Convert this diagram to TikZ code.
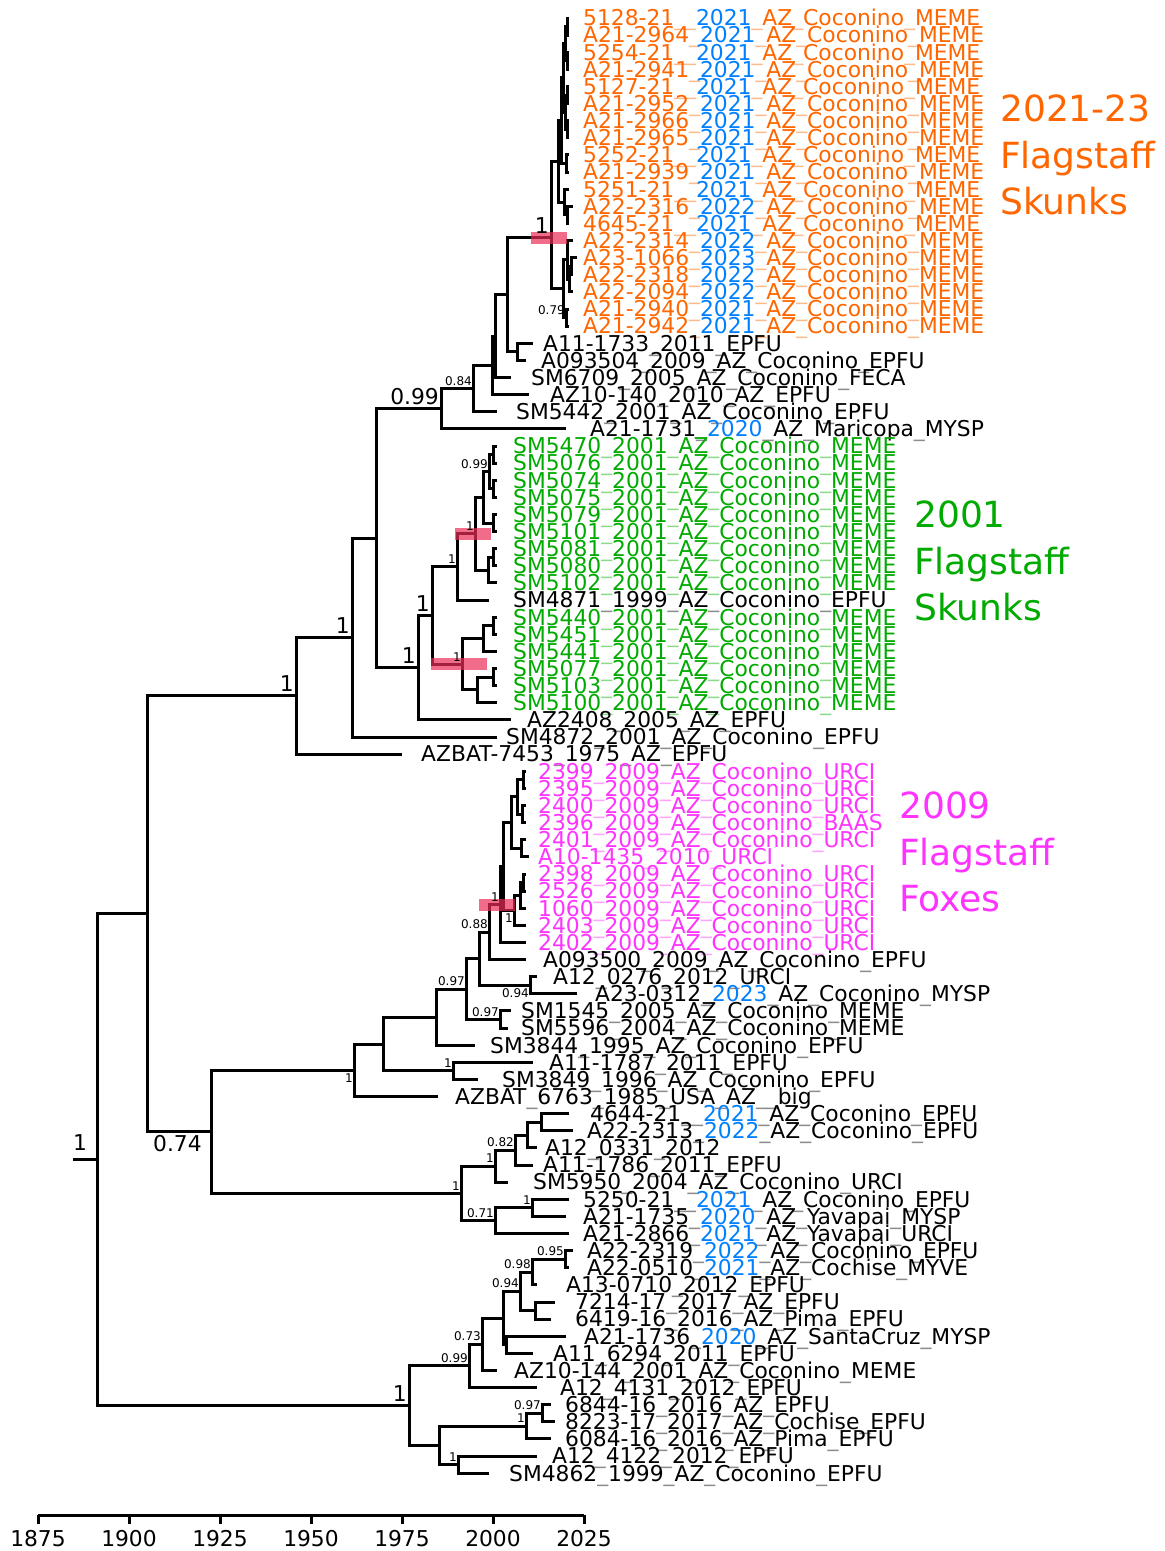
\documentclass[tikz,border=0pt]{standalone}
\usepackage{fontspec}
\setmainfont{DejaVu Sans}
\usetikzlibrary{calc}

\definecolor{skorange}{RGB}{255,102,0}
\definecolor{skgreen}{RGB}{0,170,0}
\definecolor{foxpink}{RGB}{255,51,255}
\definecolor{yrblue}{RGB}{0,128,255}
\definecolor{hpdred}{RGB}{235,45,85}

\newcommand\leaffont{\fontsize{21.8}{21.8}\selectfont}
\newcommand\smfont{\fontsize{12}{12}\selectfont}
\newcommand\grpfont{\fontsize{36}{46.5}\selectfont}
\newcommand\us{{\color{.!45!white}\_}}
\newcommand\blueyr[1]{\textcolor{yrblue}{#1}}
% leaf: name, row, year, label x, colour, text
\newcommand\leaf[6]{%
  \coordinate (#1) at ({38+(#3-1875)*3.64}, {18+(#2-1)*17.12});
  \node[lab, text=#5] (#1-l) at (#4, {25.8+(#2-1)*17.12}) {#6};}
% clade: [where between children], name, x, upper child, lower child
\newcommand\clade[5][0.5]{%
  \path let \p1=(#4), \p2=(#5) in coordinate (#2) at (#3pt, {(1-#1)*(\y1)+#1*(\y2)});
  \draw[branch] (#4) -| (#2) |- (#5);}

\begin{document}
\begin{tikzpicture}[x=1pt, y=-1pt,
    branch/.style={line width=3pt},
    lab/.style={anchor=base west, inner sep=0pt, text height=13pt, text depth=0pt, font=\leaffont},
    bigs/.style={anchor=south east, xshift=-2pt, yshift=4pt, inner sep=0pt, font=\leaffont},
    sms/.style={anchor=south east, xshift=-1pt, yshift=3pt, inner sep=0pt, font=\smfont},
    smsb/.style={anchor=north east, xshift=-1pt, yshift=-3pt, inner sep=0pt, font=\smfont},
    hpd/.style={fill=hpdred, fill opacity=0.7, minimum height=12pt, inner sep=0pt},
    grp/.style={align=left, anchor=west, inner sep=0pt, font=\grpfont}]
    \useasboundingbox (0,0) rectangle (1165,1551);

    % 2021-23 skunk clade
    \leaf{o1}{1}{2021}{583}{skorange}{5128-21\us\us\blueyr{2021}\us AZ\us Coconino\us MEME}
    \leaf{o2}{2}{2021}{583}{skorange}{A21-2964\us\blueyr{2021}\us AZ\us Coconino\us MEME}
    \leaf{o3}{3}{2021}{583}{skorange}{5254-21\us\us\blueyr{2021}\us AZ\us Coconino\us MEME}
    \leaf{o4}{4}{2021}{583}{skorange}{A21-2941\us\blueyr{2021}\us AZ\us Coconino\us MEME}
    \leaf{o5}{5}{2021}{583}{skorange}{5127-21\us\us\blueyr{2021}\us AZ\us Coconino\us MEME}
    \leaf{o6}{6}{2021}{583}{skorange}{A21-2952\us\blueyr{2021}\us AZ\us Coconino\us MEME}
    \leaf{o7}{7}{2021}{583}{skorange}{A21-2966\us\blueyr{2021}\us AZ\us Coconino\us MEME}
    \leaf{o8}{8}{2021}{583}{skorange}{A21-2965\us\blueyr{2021}\us AZ\us Coconino\us MEME}
    \leaf{o9}{9}{2021}{583}{skorange}{5252-21\us\us\blueyr{2021}\us AZ\us Coconino\us MEME}
    \leaf{o10}{10}{2021}{583}{skorange}{A21-2939\us\blueyr{2021}\us AZ\us Coconino\us MEME}
    \leaf{o11}{11}{2021}{583}{skorange}{5251-21\us\us\blueyr{2021}\us AZ\us Coconino\us MEME}
    \leaf{o12}{12}{2022}{583}{skorange}{A22-2316\us\blueyr{2022}\us AZ\us Coconino\us MEME}
    \leaf{o13}{13}{2021}{583}{skorange}{4645-21\us\us\blueyr{2021}\us AZ\us Coconino\us MEME}
    \leaf{o14}{14}{2022}{583}{skorange}{A22-2314\us\blueyr{2022}\us AZ\us Coconino\us MEME}
    \leaf{o15}{15}{2023}{583}{skorange}{A23-1066\us\blueyr{2023}\us AZ\us Coconino\us MEME}
    \leaf{o16}{16}{2022}{583}{skorange}{A22-2318\us\blueyr{2022}\us AZ\us Coconino\us MEME}
    \leaf{o17}{17}{2022}{583}{skorange}{A22-2094\us\blueyr{2022}\us AZ\us Coconino\us MEME}
    \leaf{o18}{18}{2021}{583}{skorange}{A21-2940\us\blueyr{2021}\us AZ\us Coconino\us MEME}
    \leaf{o19}{19}{2021}{583}{skorange}{A21-2942\us\blueyr{2021}\us AZ\us Coconino\us MEME}
    \leaf{b20}{20}{2011}{543}{black}{A11-1733\us 2011\us EPFU}
    \leaf{b21}{21}{2009}{541}{black}{A093504\us 2009\us AZ\us Coconino\us EPFU}
    \leaf{b22}{22}{2005}{531}{black}{SM6709\us 2005\us AZ\us Coconino\us FECA}
    \leaf{b23}{23}{2010}{550}{black}{AZ10-140\us 2010\us AZ\us EPFU}
    \leaf{b24}{24}{2001}{516}{black}{SM5442\us 2001\us AZ\us Coconino\us EPFU}
    \leaf{b25}{25}{2020}{590}{black}{A21-1731\us\blueyr{2020}\us AZ\us Maricopa\us MYSP}

    % 2001 skunk clade
    \leaf{g26}{26}{2001}{513}{skgreen}{SM5470\us 2001\us AZ\us Coconino\us MEME}
    \leaf{g27}{27}{2001}{513}{skgreen}{SM5076\us 2001\us AZ\us Coconino\us MEME}
    \leaf{g28}{28}{2001}{513}{skgreen}{SM5074\us 2001\us AZ\us Coconino\us MEME}
    \leaf{g29}{29}{2001}{513}{skgreen}{SM5075\us 2001\us AZ\us Coconino\us MEME}
    \leaf{g30}{30}{2001}{513}{skgreen}{SM5079\us 2001\us AZ\us Coconino\us MEME}
    \leaf{g31}{31}{2001}{513}{skgreen}{SM5101\us 2001\us AZ\us Coconino\us MEME}
    \leaf{g32}{32}{2001}{513}{skgreen}{SM5081\us 2001\us AZ\us Coconino\us MEME}
    \leaf{g33}{33}{2001}{513}{skgreen}{SM5080\us 2001\us AZ\us Coconino\us MEME}
    \leaf{g34}{34}{2001}{513}{skgreen}{SM5102\us 2001\us AZ\us Coconino\us MEME}
    \leaf{b35}{35}{1999}{513}{black}{SM4871\us 1999\us AZ\us Coconino\us EPFU}
    \leaf{g36}{36}{2001}{513}{skgreen}{SM5440\us 2001\us AZ\us Coconino\us MEME}
    \leaf{g37}{37}{2001}{513}{skgreen}{SM5451\us 2001\us AZ\us Coconino\us MEME}
    \leaf{g38}{38}{2001}{513}{skgreen}{SM5441\us 2001\us AZ\us Coconino\us MEME}
    \leaf{g39}{39}{2001}{513}{skgreen}{SM5077\us 2001\us AZ\us Coconino\us MEME}
    \leaf{g40}{40}{2001}{513}{skgreen}{SM5103\us 2001\us AZ\us Coconino\us MEME}
    \leaf{g41}{41}{2001}{513}{skgreen}{SM5100\us 2001\us AZ\us Coconino\us MEME}
    \leaf{b42}{42}{2005}{527}{black}{AZ2408\us 2005\us AZ\us EPFU}
    \leaf{b43}{43}{2001}{506}{black}{SM4872\us 2001\us AZ\us Coconino\us EPFU}
    \leaf{b44}{44}{1975}{421}{black}{AZBAT-7453\us 1975\us AZ\us EPFU}

    % 2009 fox clade
    \leaf{m45}{45}{2009}{538}{foxpink}{2399\us 2009\us AZ\us Coconino\us URCI}
    \leaf{m46}{46}{2009}{538}{foxpink}{2395\us 2009\us AZ\us Coconino\us URCI}
    \leaf{m47}{47}{2009}{538}{foxpink}{2400\us 2009\us AZ\us Coconino\us URCI}
    \leaf{m48}{48}{2009}{538}{foxpink}{2396\us 2009\us AZ\us Coconino\us BAAS}
    \leaf{m49}{49}{2009}{538}{foxpink}{2401\us 2009\us AZ\us Coconino\us URCI}
    \leaf{m50}{50}{2010}{538}{foxpink}{A10-1435\us 2010\us URCI}
    \leaf{m51}{51}{2009}{538}{foxpink}{2398\us 2009\us AZ\us Coconino\us URCI}
    \leaf{m52}{52}{2009}{538}{foxpink}{2526\us 2009\us AZ\us Coconino\us URCI}
    \leaf{m53}{53}{2009}{538}{foxpink}{1060\us 2009\us AZ\us Coconino\us URCI}
    \leaf{m54}{54}{2009}{538}{foxpink}{2403\us 2009\us AZ\us Coconino\us URCI}
    \leaf{m55}{55}{2009}{538}{foxpink}{2402\us 2009\us AZ\us Coconino\us URCI}
    \leaf{b56}{56}{2009}{543}{black}{A093500\us 2009\us AZ\us Coconino\us EPFU}
    \leaf{b57}{57}{2012}{553}{black}{A12\us 0276\us 2012\us URCI}
    \leaf{b58}{58}{2023}{595}{black}{A23-0312\us\blueyr{2023}\us AZ\us Coconino\us MYSP}
    \leaf{b59}{59}{2005}{521}{black}{SM1545\us 2005\us AZ\us Coconino\us MEME}
    \leaf{b60}{60}{2004}{521}{black}{SM5596\us 2004\us AZ\us Coconino\us MEME}
    \leaf{b61}{61}{1995}{490}{black}{SM3844\us 1995\us AZ\us Coconino\us EPFU}
    \leaf{b62}{62}{2011}{549}{black}{A11-1787\us 2011\us EPFU}
    \leaf{b63}{63}{1996}{502}{black}{SM3849\us 1996\us AZ\us Coconino\us EPFU}
    \leaf{b64}{64}{1985}{455}{black}{AZBAT\us 6763\us 1985\us USA\us AZ\us\us big}
    \leaf{b65}{65}{2021}{590}{black}{4644-21\us\us\blueyr{2021}\us AZ\us Coconino\us EPFU}
    \leaf{b66}{66}{2022}{587}{black}{A22-2313\us\blueyr{2022}\us AZ\us Coconino\us EPFU}
    \leaf{b67}{67}{2012}{545}{black}{A12\us 0331\us 2012}
    \leaf{b68}{68}{2011}{543}{black}{A11-1786\us 2011\us EPFU}
    \leaf{b69}{69}{2004}{533}{black}{SM5950\us 2004\us AZ\us Coconino\us URCI}
    \leaf{b70}{70}{2021}{583}{black}{5250-21\us\us\blueyr{2021}\us AZ\us Coconino\us EPFU}
    \leaf{b71}{71}{2020}{583}{black}{A21-1735\us\blueyr{2020}\us AZ\us Yavapai\us MYSP}
    \leaf{b72}{72}{2021}{583}{black}{A21-2866\us\blueyr{2021}\us AZ\us Yavapai\us URCI}
    \leaf{b73}{73}{2022}{587}{black}{A22-2319\us\blueyr{2022}\us AZ\us Coconino\us EPFU}
    \leaf{b74}{74}{2021}{587}{black}{A22-0510\us\blueyr{2021}\us AZ\us Cochise\us MYVE}
    \leaf{b75}{75}{2012}{566}{black}{A13-0710\us 2012\us EPFU}
    \leaf{b76}{76}{2017}{575}{black}{7214-17\us 2017\us AZ\us EPFU}
    \leaf{b77}{77}{2016}{575}{black}{6419-16\us 2016\us AZ\us Pima\us EPFU}
    \leaf{b78}{78}{2020}{584}{black}{A21-1736\us\blueyr{2020}\us AZ\us SantaCruz\us MYSP}
    \leaf{b79}{79}{2011}{553}{black}{A11\us 6294\us 2011\us EPFU}
    \leaf{b80}{80}{2001}{514}{black}{AZ10-144\us 2001\us AZ\us Coconino\us MEME}
    \leaf{b81}{81}{2012}{560}{black}{A12\us 4131\us 2012\us EPFU}
    \leaf{b82}{82}{2016}{565}{black}{6844-16\us 2016\us AZ\us EPFU}
    \leaf{b83}{83}{2017}{565}{black}{8223-17\us 2017\us AZ\us Cochise\us EPFU}
    \leaf{b84}{84}{2016}{565}{black}{6084-16\us 2016\us AZ\us Pima\us EPFU}
    \leaf{b85}{85}{2012}{552}{black}{A12\us 4122\us 2012\us EPFU}
    \leaf{b86}{86}{1999}{509}{black}{SM4862\us 1999\us AZ\us Coconino\us EPFU}

    % branches, top part
    \clade{q1}{567}{o1}{o2}
    \clade{q2}{567}{o3}{o4}
    \clade{q3}{565}{q1}{q2}
    \clade{q4}{567}{o5}{o6}
    \clade{q5}{567}{o7}{o8}
    \clade{q6}{565}{q4}{q5}
    \clade{q7}{563}{q3}{q6}
    \clade{q8}{566}{o9}{o10}
    \clade{q9}{561}{q7}{q8}
    \clade{q10}{567}{o12}{o13}
    \clade{q11}{564}{o11}{q10}
    \clade{ou}{558}{q9}{q11}
    \clade{r1}{571}{o15}{o16}
    \clade{r2}{569}{r1}{o17}
    \clade{r3}{567}{o14}{r2}
    \clade{r4}{566}{o18}{o19}
    \clade{ol}{563}{r3}{r4}
    \clade[0.6]{om}{551}{ou}{ol}
    \clade{ab}{517}{b20}{b21}
    \clade{oa}{507}{om}{ab}
    \clade{ob}{495}{oa}{b22}
    \clade{u2}{492}{ob}{b23}
    \clade{u1}{473}{u2}{b24}
    \clade{nU}{441}{u1}{b25}
    \clade{gp1}{493}{g26}{g27}
    \clade{gp2}{493}{g28}{g29}
    \clade{z1a}{489}{gp1}{gp2}
    \clade{gp3}{493}{g30}{g31}
    \clade{z1}{483}{z1a}{gp3}
    \clade{gp4}{493}{g32}{g33}
    \clade{z2}{488}{gp4}{g34}
    \clade{gz}{475}{z1}{z2}
    \clade{gx}{457}{gz}{b35}
    \clade{gp5}{493}{g36}{g37}
    \clade{y1}{483}{gp5}{g38}
    \clade{gp6}{493}{g39}{g40}
    \clade{y2}{477}{gp6}{g41}
    \clade{gy}{462}{y1}{y2}
    \clade{nW}{432}{gx}{gy}
    \clade{nV}{418}{nW}{b42}
    \clade{nT}{376}{nU}{nV}
    \clade{nS}{352}{nT}{b43}
    \clade{nB}{296}{nS}{b44}

    % branches, middle part
    \clade{mp1}{523}{m45}{m46}
    \clade{mp2}{522}{m47}{m48}
    \clade{mP}{517}{mp1}{mp2}
    \clade{mQ}{521}{m49}{m50}
    \clade{mN1}{511}{mP}{mQ}
    \clade{mR1}{523}{m51}{m52}
    \clade{mR}{520}{mR1}{m53}
    \clade{mN2}{514}{mR}{m54}
    \clade{mM}{503}{mN1}{mN2}
    \clade{mL}{500}{mM}{m55}
    \clade{nJ}{489}{mL}{b56}
    \clade{nK}{530}{b57}{b58}
    \clade{nI}{479}{nJ}{nK}
    \clade{nSM}{500}{b59}{b60}
    \clade{nH}{466}{nI}{nSM}
    \clade{nG}{436}{nH}{b61}
    \clade{nAA}{453}{b62}{b63}
    \clade{nF}{383}{nG}{nAA}
    \clade{nD}{354}{nF}{b64}
    \clade{e1c}{541}{b65}{b66}
    \clade{e1b}{527}{e1c}{b67}
    \clade{e1a}{515}{e1b}{b68}
    \clade{e1}{495}{e1a}{b69}
    \clade{e2a}{532}{b70}{b71}
    \clade{e2}{495}{e2a}{b72}
    \clade{nE}{461}{e1}{e2}
    \clade{nC}{211}{nD}{nE}
    \clade{nA}{147}{nB}{nC}

    % branches, bottom part
    \clade{kII}{565}{b73}{b74}
    \clade{kGG}{532}{kII}{b75}
    \clade{kHH}{535}{b76}{b77}
    \clade{kFF}{520}{kGG}{kHH}
    \clade{kEE2}{506}{b78}{b79}
    \clade{kEE}{503}{kFF}{kEE2}
    \clade{kDD}{482}{kEE}{b80}
    \clade{kCC}{469}{kDD}{b81}
    \clade{kMM}{542}{b82}{b83}
    \clade{kKK}{526}{kMM}{b84}
    \clade{kLL}{458}{b85}{b86}
    \clade{kJJ}{439}{kKK}{kLL}
    \clade{kBB}{409}{kCC}{kJJ}
    \clade{root}{97}{nA}{kBB}
    \draw[branch] (root) -- ++(-24,0) coordinate (rstub);

    % HPD bars
    \node[hpd, minimum width=36pt, xshift=-2pt] (h-om) at (om) {};
    \node[hpd, minimum width=36pt, xshift=-2pt] (h-gz) at (gz) {};
    \node[hpd, minimum width=56pt, xshift=-3pt] (h-gy) at (gy) {};
    \node[hpd, minimum width=36pt, xshift=-3pt] (h-mL) at (mL) {};

    % support values
    \node[bigs] (s-om) at (om) {1};
    \node[sms] (s-r4) at (r4) {0.79};
    \node[bigs] (s-nU) at (nU) {0.99};
    \node[sms] (s-u1) at (u1) {0.84};
    \node[sms] (s-z1a) at (z1a) {0.99};
    \node[sms] (s-gz) at (gz) {1};
    \node[sms] (s-gx) at (gx) {1};
    \node[sms] (s-gy) at (gy) {1};
    \node[bigs] (s-nW) at (nW) {1};
    \node[bigs] (s-nV) at (nV) {1};
    \node[bigs] (s-nS) at (nS) {1};
    \node[bigs] (s-nB) at (nB) {1};
    \node[sms] (s-mL) at (mL) {1};
    \node[smsb] (s-mN2) at (mN2) {1};
    \node[sms] (s-nJ) at (nJ) {0.88};
    \node[smsb] (s-nK) at (nK) {0.94};
    \node[sms] (s-nH) at (nH) {0.97};
    \node[sms] (s-nSM) at (nSM) {0.97};
    \node[sms] (s-nAA) at (nAA) {1};
    \node[smsb] (s-nD) at (nD) {1};
    \node[sms] (s-e1a) at (e1a) {0.82};
    \node[sms] (s-e1) at (e1) {1};
    \node[sms] (s-nE) at (nE) {1};
    \node[sms] (s-e2a) at (e2a) {1};
    \node[sms] (s-e2) at (e2) {0.71};
    \node[anchor=north west, xshift=6pt, yshift=-3pt, inner sep=0pt, font=\leaffont] (s-nC) at (nA |- nC) {0.74};
    \node[sms] (s-kII) at (kII) {0.95};
    \node[sms] (s-kGG) at (kGG) {0.98};
    \node[sms] (s-kFF) at (kFF) {0.94};
    \node[sms] (s-kDD) at (kDD) {0.73};
    \node[sms] (s-kCC) at (kCC) {0.99};
    \node[sms] (s-kMM) at (kMM) {0.97};
    \node[sms] (s-kKK) at (kKK) {1};
    \node[sms] (s-kLL) at (kLL) {1};
    \node[bigs] (s-kBB) at (kBB) {1};
    \node[anchor=south, xshift=-17pt, yshift=9pt, inner sep=0pt, font=\leaffont] (s-root) at (root) {1};

    % group names
    \node[grp, text=skorange] (skunks21) at (1000,155) {2021-23\\Flagstaff\\Skunks};
    \node[grp, text=skgreen] (skunks01) at (914,561) {2001\\Flagstaff\\Skunks};
    \node[grp, text=foxpink] (foxes09) at (899,852) {2009\\Flagstaff\\Foxes};

    % time axis
    \coordinate (ax0) at (38,1515);
    \coordinate (ax1) at (584,1515);
    \draw[branch] (ax0) -- (ax1);
    \foreach \yv [count=\i from 0] in {1875,1900,...,2025} {
        \coordinate (tk\yv) at (38+\i*91,1515);
        \draw[branch] (tk\yv) -- ++(0,9);
        \node[anchor=base, inner sep=0pt, font=\leaffont] (tl\yv) at (38+\i*91,1546) {\yv};
    }
\end{tikzpicture}
\end{document}
